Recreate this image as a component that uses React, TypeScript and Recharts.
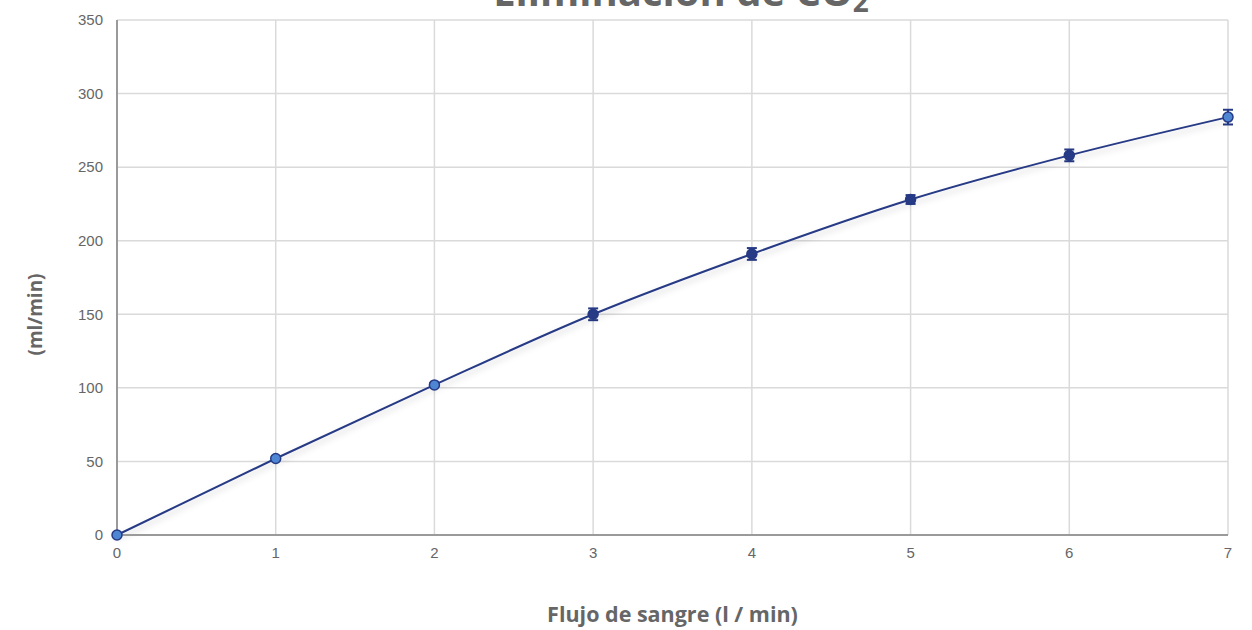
import React from "react";
import {
  LineChart,
  Line,
  XAxis,
  YAxis,
  CartesianGrid,
  ErrorBar,
} from "recharts";

const flow = [0, 1, 2, 3, 4, 5, 6, 7];
const co2 = [0, 52, 102, 150, 191, 228, 258, 284];
const co2Err = [0, 0, 1, 4, 4, 3, 4, 5];
const darkDot = [false, false, false, true, true, true, true, false];
const xTicks = [0, 1, 2, 3, 4, 5, 6, 7];
const yTicks = [0, 50, 100, 150, 200, 250, 300, 350];

const data = flow.map((f, i) => ({
  flow: f,
  co2: co2[i],
  err: co2Err[i],
  dark: darkDot[i],
}));

const NAVY = "#263a85";
const LIGHT = "#4f86d3";
const BOLD_FONT = "'Open Sans', Lato, sans-serif";
const TICK_FONT = "'Liberation Sans', Arial, sans-serif";

const Dot = (props: any) => {
  const { cx, cy, payload, index } = props;
  if (cx == null || cy == null) return null;
  return (
    <circle
      key={`dot-${index}`}
      cx={cx}
      cy={cy}
      r={5}
      fill={payload.dark ? NAVY : LIGHT}
      stroke={NAVY}
      strokeWidth={1.5}
    />
  );
};

export default function App() {
  return (
    <div
      style={{
        position: "absolute",
        left: 0,
        top: 0,
        width: 1252,
        height: 630,
        overflow: "hidden",
        background: "#fff",
      }}
    >
      <style>{`
        body { margin: 0; }
        .recharts-line-curve { filter: drop-shadow(0px 4px 3px rgba(0,0,0,0.18)); }
      `}</style>
      <div
        style={{
          position: "absolute",
          top: -31,
          left: 0,
          width: 1362,
          textAlign: "center",
          fontFamily: BOLD_FONT,
          fontWeight: 700,
          fontSize: 40,
          color: "#666",
          lineHeight: "44px",
          whiteSpace: "nowrap",
        }}
      >
        Eliminación de CO<sub style={{ fontSize: 28, verticalAlign: "-6px" }}>2</sub>
      </div>
      <LineChart
        width={1252}
        height={630}
        data={data}
        margin={{ top: 20, right: 24, bottom: 0, left: 0 }}
      >
        <CartesianGrid stroke="#dadada" strokeWidth={1.5} />
        <XAxis
          dataKey="flow"
          type="number"
          domain={[0, 7]}
          ticks={xTicks}
          tickLine={false}
          tickSize={6}
          tickMargin={6}
          axisLine={{ stroke: "#9a9a9a", strokeWidth: 2 }}
          height={95}
          tick={{ fontSize: 15, fill: "#666", fontFamily: TICK_FONT }}
          label={{
            value: "Flujo de sangre (l / min)",
            position: "insideBottom",
            offset: 8,
            style: {
              fontSize: 21.5,
              fontWeight: 700,
              fill: "#666",
              fontFamily: BOLD_FONT,
            },
          }}
        />
        <YAxis
          type="number"
          domain={[0, 350]}
          ticks={yTicks}
          width={117}
          tickLine={false}
          tickSize={6}
          tickMargin={8}
          axisLine={{ stroke: "#9a9a9a", strokeWidth: 2 }}
          tick={{ fontSize: 15, fill: "#666", fontFamily: TICK_FONT }}
          label={{
            content: (p: any) => {
              const vb = p.viewBox;
              const x = vb.x + 35;
              const y = vb.y + vb.height / 2 + 37;
              return (
                <text
                  x={x}
                  y={y}
                  transform={`rotate(-90, ${x}, ${y})`}
                  textAnchor="middle"
                  dominantBaseline="central"
                  fontSize={19}
                  fontWeight={700}
                  fill="#666"
                  fontFamily={BOLD_FONT}
                >
                  (ml/min)
                </text>
              );
            },
          }}
        />
        <Line
          type="monotone"
          dataKey="co2"
          stroke={NAVY}
          strokeWidth={2}
          dot={<Dot />}
          activeDot={false}
          isAnimationActive={false}
        >
          <ErrorBar dataKey="err" width={5} stroke={NAVY} strokeWidth={2} direction="y" />
        </Line>
      </LineChart>
    </div>
  );
}
